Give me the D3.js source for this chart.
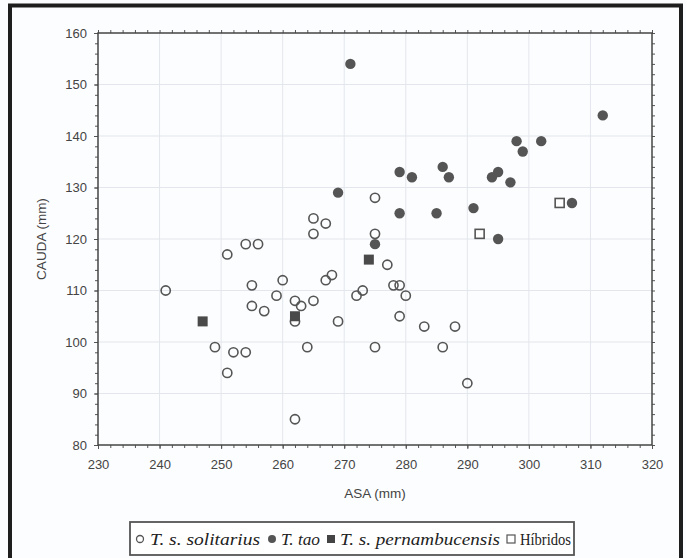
<!DOCTYPE html>
<html><head><meta charset="utf-8">
<script src="https://cdn.jsdelivr.net/npm/d3@7"></script>
<style>
html,body{margin:0;padding:0;background:#fff;}
svg{display:block;}
</style></head>
<body>
<svg id="chart" width="686" height="558"></svg>
<script>
// ---- data (ASA mm, CAUDA mm) ----
const xTicks = [230,240,250,260,270,280,290,300,310,320];
const yTicks = [80,90,100,110,120,130,140,150,160];

const solitariusAsa   = [241,251,249,251,252,254,255,255,257,259,260,262,263,262,265,264,262,254,256,265,265,267,267,268,269,272,273,275,275,277,278,279,280,279,283,288,275,286,290];
const solitariusCauda = [110,117, 99, 94, 98, 98,111,107,106,109,112,108,107,104,108, 99, 85,119,119,121,124,123,112,113,104,109,110,121,128,115,111,111,109,105,103,103, 99, 99, 92];

const taoAsa   = [271,269,279,281,286,287,279,285,291,294,295,297,298,299,302,312,307,295,275];
const taoCauda = [154,129,133,132,134,132,125,125,126,132,133,131,139,137,139,144,127,120,119];

const pernAsa   = [247,262,274];
const pernCauda = [104,105,116];

const hibAsa   = [292,305];
const hibCauda = [121,127];

const legendLabels = ["T. s. solitarius","T. tao","T. s. pernambucensis","Híbridos"];

// ---- layout ----
const svg = d3.select("#chart");
const L=98, R=652, T=33, B=445;
const x = d3.scaleLinear().domain([230,320]).range([L,R]);
const y = d3.scaleLinear().domain([80,160]).range([B,T]);
const ink = "#555";

svg.append("rect").attr("width",686).attr("height",558).attr("fill","#fcfdfe");

// outer frame (left, top, right)
svg.append("path").attr("d","M10,558 V5.5 H681 V558")
  .attr("fill","none").attr("stroke","#1e1e1e").attr("stroke-width",4);

// grid
const grid = svg.append("g").attr("stroke","#e3e6ec").attr("stroke-width",1);
xTicks.slice(1,-1).forEach(v=>grid.append("line").attr("x1",x(v)).attr("x2",x(v)).attr("y1",T).attr("y2",B));
yTicks.slice(1,-1).forEach(v=>grid.append("line").attr("y1",y(v)).attr("y2",y(v)).attr("x1",L).attr("x2",R));

// axes
const minorX = d3.range(230,321,2), minorY = d3.range(80,161,2);
function styleAxis(g){ g.select(".domain").remove(); g.selectAll("line").attr("stroke","#555"); }
const font = "'Liberation Sans', Arial, sans-serif";

svg.append("g").attr("transform",`translate(0,${B})`)
  .call(d3.axisBottom(x).tickValues(minorX).tickSize(3).tickFormat("")).call(styleAxis);
svg.append("g").attr("transform",`translate(0,${B})`)
  .call(d3.axisBottom(x).tickValues(xTicks).tickSize(4).tickPadding(11).tickFormat(d3.format("d"))).call(styleAxis)
  .selectAll("text").attr("font-family",font).attr("font-size",13).attr("fill","#444");
svg.append("g").attr("transform",`translate(0,${T})`)
  .call(d3.axisTop(x).tickValues(minorX).tickSize(3).tickFormat("")).call(styleAxis);
svg.append("g").attr("transform",`translate(${L},0)`)
  .call(d3.axisLeft(y).tickValues(minorY).tickSize(3).tickFormat("")).call(styleAxis);
svg.append("g").attr("transform",`translate(${L},0)`)
  .call(d3.axisLeft(y).tickValues(yTicks).tickSize(4).tickPadding(7).tickFormat(d3.format("d"))).call(styleAxis)
  .selectAll("text").attr("font-family",font).attr("font-size",13).attr("fill","#444");
svg.append("g").attr("transform",`translate(${R},0)`)
  .call(d3.axisRight(y).tickValues(minorY).tickSize(3).tickFormat("")).call(styleAxis);

// plot frame
svg.append("rect").attr("x",L).attr("y",T).attr("width",R-L).attr("height",B-T)
  .attr("fill","none").attr("stroke","#444").attr("stroke-width",1.5);

// axis titles
svg.append("text").attr("x",(L+R)/2).attr("y",498).attr("text-anchor","middle")
  .attr("font-family",font).attr("font-size",13.5).attr("fill","#444").text("ASA (mm)");
svg.append("text").attr("transform",`translate(46,${(T+B)/2}) rotate(-90)`).attr("text-anchor","middle")
  .attr("font-family",font).attr("font-size",13.5).attr("fill","#444").text("CAUDA (mm)");

// points
const pts = svg.append("g");
const zip = (a,b)=>a.map((v,i)=>[v,b[i]]);
const rC = 4.6, sq = 9;
pts.selectAll(".sol").data(zip(solitariusAsa,solitariusCauda)).join("circle")
  .attr("cx",d=>x(d[0])).attr("cy",d=>y(d[1])).attr("r",rC)
  .attr("fill","none").attr("stroke",ink).attr("stroke-width",1.6);
pts.selectAll(".hib").data(zip(hibAsa,hibCauda)).join("rect")
  .attr("x",d=>x(d[0])-sq/2).attr("y",d=>y(d[1])-sq/2).attr("width",sq).attr("height",sq)
  .attr("fill","#fff").attr("stroke",ink).attr("stroke-width",1.6);
pts.selectAll(".tao").data(zip(taoAsa,taoCauda)).join("circle")
  .attr("cx",d=>x(d[0])).attr("cy",d=>y(d[1])).attr("r",5.2).attr("fill",ink);
pts.selectAll(".pern").data(zip(pernAsa,pernCauda)).join("rect")
  .attr("x",d=>x(d[0])-5).attr("y",d=>y(d[1])-5).attr("width",10).attr("height",10).attr("fill","#4a4a4a");

// legend
const lg = svg.append("g");
lg.append("rect").attr("x",130).attr("y",522).attr("width",444).attr("height",33)
  .attr("fill","#fff").attr("stroke","#555").attr("stroke-width",1.8);
const serif = "'Liberation Serif','Times New Roman',serif";
const items = [
  {sx:140, tx:150, w:110, shape:"oc"},
  {sx:272, tx:281, w:39,  shape:"fc"},
  {sx:331, tx:340, w:160, shape:"fs"},
  {sx:511, tx:520, w:51,  shape:"os"}
];
items.forEach((it,i)=>{
  const cy = 539;
  if(it.shape==="oc") lg.append("circle").attr("cx",it.sx).attr("cy",cy).attr("r",3.5).attr("fill","none").attr("stroke",ink).attr("stroke-width",1.3);
  if(it.shape==="fc") lg.append("circle").attr("cx",it.sx).attr("cy",cy).attr("r",4).attr("fill",ink);
  if(it.shape==="fs") lg.append("rect").attr("x",it.sx-4).attr("y",cy-4).attr("width",8).attr("height",8).attr("fill","#444");
  if(it.shape==="os") lg.append("rect").attr("x",it.sx-4).attr("y",cy-4).attr("width",8).attr("height",8).attr("fill","none").attr("stroke",ink).attr("stroke-width",1.2);
  lg.append("text").attr("x",it.tx).attr("y",545)
    .attr("font-family",serif).attr("font-size",16).attr("fill","#222")
    .attr("textLength",it.w).attr("lengthAdjust","spacingAndGlyphs")
    .attr("font-style", i===3 ? "normal" : "italic").text(legendLabels[i]);
});
</script>
</body></html>
